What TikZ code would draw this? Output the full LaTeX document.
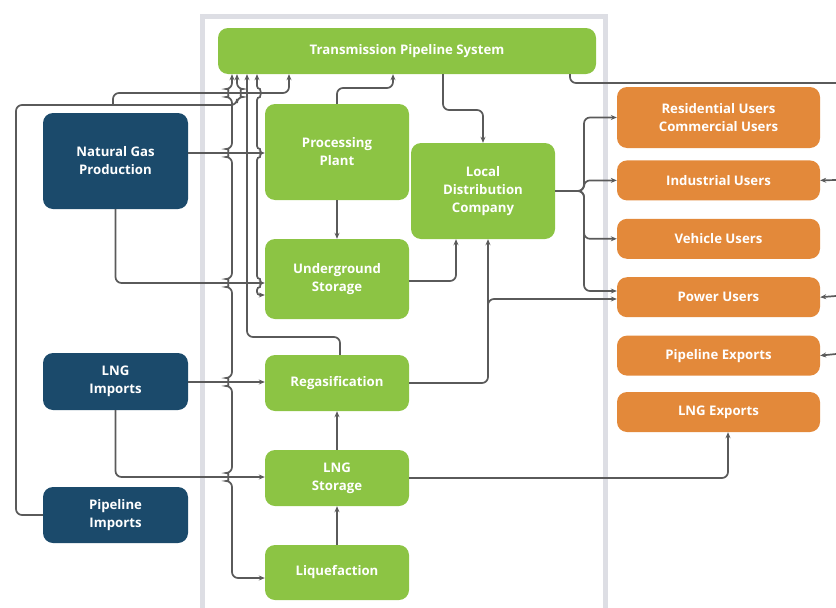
\documentclass[tikz,border=0pt]{standalone}
\usepackage{fontspec}
\setmainfont{Open Sans}
\usetikzlibrary{positioning,arrows.meta}

\definecolor{gasgreen}{HTML}{8CC444}
\definecolor{gasnavy}{HTML}{1B4A6B}
\definecolor{gasorange}{HTML}{E3893A}
\definecolor{pipegray}{HTML}{5A5A5A}
\definecolor{framegray}{HTML}{DDDEE4}

% line jumps of a vertical pipe going down over a horizontal one
\newcommand{\hopL}[2]{-- (#1,#2-4) arc[start angle=90, end angle=270, radius=4pt]}
\newcommand{\hopR}[2]{-- (#1,#2-4) arc[start angle=90, end angle=-90, radius=4pt]}

\begin{document}
\begin{tikzpicture}[x=1pt, y=-1pt, >={Stealth[length=6pt,width=5pt]},
    box/.style = {rounded corners=10pt, text=white, align=center, inner sep=0pt,
        font=\bfseries\fontsize{13.2}{18}\selectfont},
    src/.style = {box, fill=gasnavy, minimum width=145pt},
    plant/.style = {box, fill=gasgreen, minimum width=144pt},
    user/.style = {box, fill=gasorange, minimum width=203pt, minimum height=40pt},
    pipe/.style = {draw=pipegray, line width=1.7pt, rounded corners=6pt}]
    \useasboundingbox (0,0) rectangle (836,608);
    \draw[framegray, line width=5pt] (202.5,612) -- (202.5,16.5) -- (605,16.5) -- (605,612);

    \node[plant, minimum width=378pt, minimum height=46pt] (tps) at (407,51) {Transmission Pipeline System};

    \node[src, minimum height=96pt] (ngp) at (115.5,161) {Natural Gas\\Production};
    \node[src, minimum height=57pt] (lngi) at (115.5,381.5) {LNG\\Imports};
    \node[src, minimum height=56pt] (pim) at (115.5,515) {Pipeline\\Imports};

    \node[plant, minimum height=96pt] (pp) at (337,152) {Processing\\Plant};
    \node[plant, minimum height=80pt] (ugs) at (337,279) {Underground\\Storage};
    \node[plant, minimum height=56pt] (regas) at (337,383) {Regasification};
    \node[plant, minimum height=56pt] (lngs) at (337,478) {LNG\\Storage};
    \node[plant, minimum height=55pt] (liq) at (337,572.5) {Liquefaction};
    \node[plant, minimum height=96pt] (ldc) at (483,191) {Local\\Distribution\\Company};

    \node[user, minimum height=61pt] (res) at (718.5,117.5) {Residential Users\\Commercial Users};
    \node[user, below=12pt of res] (ind) {Industrial Users};
    \node[user, below=18pt of ind] (veh) {Vehicle Users};
    \node[user, below=18pt of veh] (pow) {Power Users};
    \node[user, below=18pt of pow] (pex) {Pipeline Exports};
    \node[user, below=16pt of pex] (lngx) {LNG Exports};

    % supply side
    \draw[pipe,->] (ngp.east |- 0,153) -- (pp.west |- 0,153);
    \draw[pipe,->] (ngp.south) |- (ugs.west |- 0,283);
    \draw[pipe,->] (lngi.east |- 0,382) -- (regas.west |- 0,382);
    \draw[pipe,->] (lngi.south) |- (lngs.west |- 0,477);
    \draw[pipe,->] (pim.west) -| (16,105) -- (237,105) -- (237,97)
        arc[start angle=-90, end angle=90, radius=4pt] -- (tps.south -| 237,0);
    \coordinate (pimSplit) at (113,105);
    \draw[pipe,->] (pimSplit) |- (289,93) -- (tps.south -| 289,0);

    % plants
    \draw[pipe,->] (pp.north) |- (393,88) -- (tps.south -| 393,0);
    \draw[pipe,->] (pp.south) -- (ugs.north);
    \draw[pipe,->] (liq.north) -- (lngs.south);
    \draw[pipe,->] (lngs.north) -- (regas.south);
    \draw[pipe,->] (regas.north -| 340,0) |- (247,337) -- (tps.south -| 247,0);
    \draw[pipe,<->] (tps.south -| 232,0) \hopL{232}{93} \hopL{232}{153} \hopL{232}{283}
        \hopL{232}{382} \hopL{232}{477} |- (liq.west |- 0,578);
    \draw[pipe,<->,rounded corners=3pt] (tps.south -| 257,0) \hopR{257}{93} \hopR{257}{153}
        \hopR{257}{283} -- (257,295) -- (ugs.west |- 0,295);

    % to the local distribution company
    \draw[pipe,->] (tps.south -| 443,0) -- (443,110) -| (ldc.north);
    \draw[pipe,->] (ugs.east |- 0,281) -| (ldc.south -| 456,0);
    \draw[pipe,->] (regas.east) -| (ldc.south -| 488,0);
    \coordinate (regasSplit) at (488,312);
    \draw[pipe,->] (regasSplit) |- (pow.west |- 0,299);

    % users
    \coordinate (ldcSplit) at (584,191);
    \draw[pipe,->] (ldc.east |- 0,191) -- (ldcSplit) |- (res.west);
    \draw[pipe,->] (ldc.east |- 0,191) -- (ldcSplit) |- (ind.west);
    \draw[pipe,->] (ldc.east |- 0,191) -- (ldcSplit) |- (veh.west);
    \draw[pipe,->] (ldc.east |- 0,191) -- (ldcSplit) |- (pow.west |- 0,291);
    \draw[pipe,->] (lngs.east) -| (lngx.south -| 728,0);

    % off the right edge
    \coordinate (gasOut) at (836,83);
    \draw[pipe] (tps.south -| 570,0) |- (gasOut);
    \coordinate (indIn) at (836,180);
    \coordinate (powIn) at (836,296);
    \coordinate (pexIn) at (836,354);
    \draw[pipe,->] (indIn) -- (ind.east);
    \draw[pipe,->] (powIn) -- (pow.east);
    \draw[pipe,->] (pexIn) -- (pex.east);
\end{tikzpicture}
\end{document}
